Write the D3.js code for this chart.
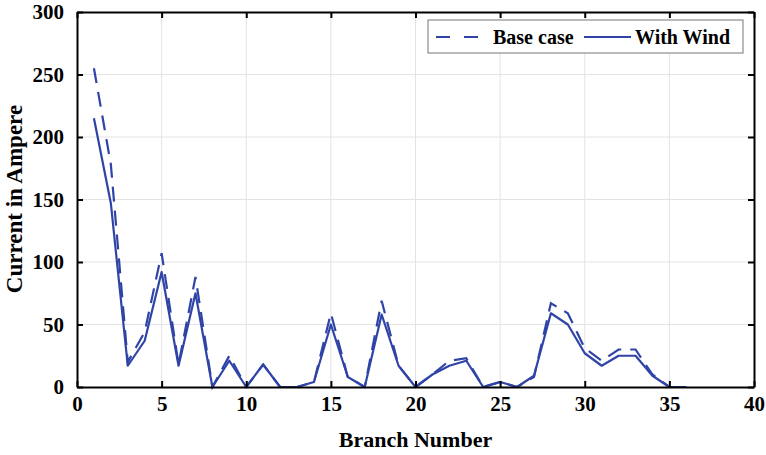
<!DOCTYPE html>
<html>
<head>
<meta charset="utf-8">
<script src="https://cdn.jsdelivr.net/npm/d3@7"></script>
<style>
  body { margin: 0; background: #fff; }
  text { font-family: "Liberation Serif", "Times New Roman", serif; font-weight: bold; }
</style>
</head>
<body>
<div id="wrapper"></div>
<script>
// branch numbers and currents (A)
const branches = d3.range(1, 37)
const baseCase = [255, 178, 20, 44, 107, 18, 88, 0, 25, 0, 18, 0, 0, 4, 59, 8, 0, 69, 17, 0,
                  10, 21, 23, 0, 4, 0, 8, 67, 59, 31, 21, 30, 30, 10, 0, 0]
const withWind = [215, 147, 17, 37, 92, 17, 75, 0, 21, 0, 18, 0, 0, 4, 50, 8, 0, 58, 17, 0,
                  10, 17, 21, 0, 4, 0, 9, 59, 50, 27, 17, 25, 25, 9, 0, 0]
const xTicks = [0, 5, 10, 15, 20, 25, 30, 35, 40]
const yTicks = [0, 50, 100, 150, 200, 250, 300]
const seriesNames = ["Base case", "With Wind"]

function drawChart() {
    const dims = {
        width: 766,
        height: 455,
        margin: { top: 12, right: 12, bottom: 68, left: 77 }
    }
    dims.boundedWidth = dims.width - dims.margin.left - dims.margin.right
    dims.boundedHeight = dims.height - dims.margin.top - dims.margin.bottom

    const lineColor = "#2f44a6"

    const wrapper = d3.select("#wrapper")
        .append("svg")
        .attr("width", dims.width)
        .attr("height", dims.height)

    const bounds = wrapper.append("g")
        .attr("transform", `translate(${dims.margin.left},${dims.margin.top})`)

    const xScale = d3.scaleLinear().domain([0, 40]).range([0, dims.boundedWidth])
    const yScale = d3.scaleLinear().domain([0, 300]).range([dims.boundedHeight, 0])

    // grid
    bounds.append("g").selectAll("line")
        .data(xTicks.slice(1, -1))
        .join("line")
        .attr("x1", d => xScale(d)).attr("x2", d => xScale(d))
        .attr("y1", 0).attr("y2", dims.boundedHeight)
        .attr("stroke", "#e3e3e3").attr("stroke-width", 1)
    bounds.append("g").selectAll("line")
        .data(yTicks.slice(1, -1))
        .join("line")
        .attr("y1", d => yScale(d)).attr("y2", d => yScale(d))
        .attr("x1", 0).attr("x2", dims.boundedWidth)
        .attr("stroke", "#e3e3e3").attr("stroke-width", 1)

    // lines
    const line = values => d3.line()
        .x((d, i) => xScale(branches[i]))
        .y(d => yScale(d))(values)

    bounds.append("path")
        .attr("d", line(withWind))
        .attr("fill", "none")
        .attr("stroke", lineColor)
        .attr("stroke-width", 2.2)
        .attr("stroke-linejoin", "round")

    bounds.append("path")
        .attr("d", line(baseCase))
        .attr("fill", "none")
        .attr("stroke", lineColor)
        .attr("stroke-width", 2.2)
        .attr("stroke-dasharray", "15,9")

    // axes
    const styleAxis = g => {
        g.select(".domain").attr("stroke", "#000").attr("stroke-width", 2)
        g.selectAll(".tick line").attr("stroke", "#000").attr("stroke-width", 2)
        g.selectAll("text").style("font-size", "21px").attr("fill", "#000")
            .style("font-family", "'Liberation Serif', serif").style("font-weight", "bold")
    }

    bounds.append("g")
        .attr("transform", `translate(0,${dims.boundedHeight})`)
        .call(d3.axisBottom(xScale).tickValues(xTicks).tickSize(-6).tickSizeOuter(0).tickPadding(9))
        .call(styleAxis)

    bounds.append("g")
        .call(d3.axisLeft(yScale).tickValues(yTicks).tickSize(-6).tickSizeOuter(0).tickPadding(13))
        .call(styleAxis)

    bounds.append("g")
        .call(d3.axisTop(xScale).tickValues(xTicks).tickSize(-6).tickSizeOuter(0).tickFormat(""))
        .call(styleAxis)

    bounds.append("g")
        .attr("transform", `translate(${dims.boundedWidth},0)`)
        .call(d3.axisRight(yScale).tickValues(yTicks).tickSize(-6).tickSizeOuter(0).tickFormat(""))
        .call(styleAxis)

    // axis labels
    wrapper.append("text")
        .attr("x", dims.margin.left + dims.boundedWidth / 2)
        .attr("y", 447)
        .attr("text-anchor", "middle")
        .style("font-size", "22px")
        .text("Branch Number")

    wrapper.append("text")
        .attr("transform", `translate(22,199) rotate(-90)`)
        .attr("text-anchor", "middle")
        .style("font-size", "23px")
        .text("Current in Ampere")

    // legend
    const legend = wrapper.append("g").attr("transform", "translate(428,20)")
    legend.append("rect")
        .attr("width", 315).attr("height", 33)
        .attr("fill", "#fff").attr("stroke", "#777").attr("stroke-width", 1)
    legend.append("line")
        .attr("x1", 8).attr("x2", 52).attr("y1", 17).attr("y2", 17)
        .attr("stroke", lineColor).attr("stroke-width", 2.2)
        .attr("stroke-dasharray", "14,14")
    legend.append("text")
        .attr("x", 65).attr("y", 24)
        .style("font-size", "20px")
        .text(seriesNames[0])
    legend.append("line")
        .attr("x1", 156).attr("x2", 203).attr("y1", 17).attr("y2", 17)
        .attr("stroke", lineColor).attr("stroke-width", 2.2)
    legend.append("text")
        .attr("x", 207).attr("y", 24)
        .style("font-size", "20px")
        .text(seriesNames[1])
}

drawChart()
</script>
</body>
</html>
